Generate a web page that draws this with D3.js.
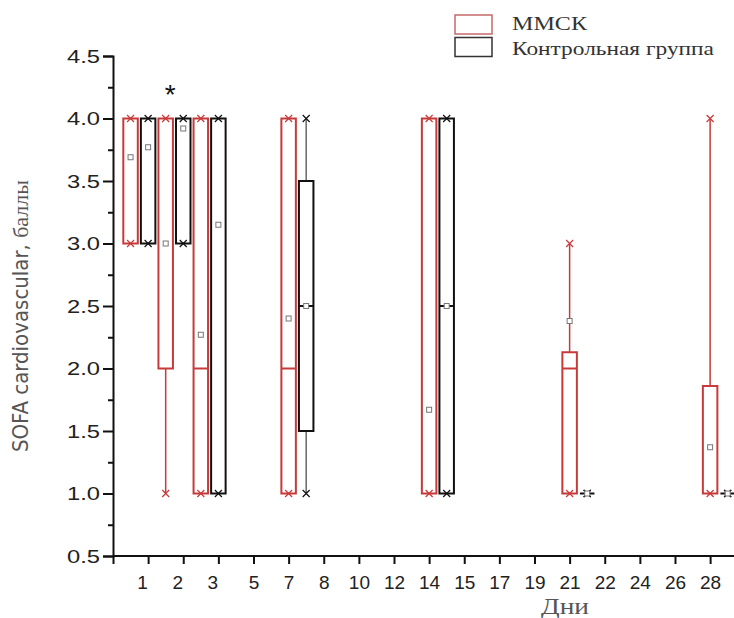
<!DOCTYPE html>
<html>
<head>
<meta charset="utf-8">
<script src="https://cdn.jsdelivr.net/npm/d3@7"></script>
<style>
  body { margin: 0; background: #fff; }
  svg text { font-family: "Liberation Sans", Arial, sans-serif; }
</style>
</head>
<body>
<div id="chart"></div>
<script>
// tick labels of the day axis (position 0 is the unlabelled origin)
const dayLabels = ["1", "2", "3", "5", "7", "8", "10", "12", "14", "15", "17", "19", "21", "22", "24", "26", "28"];

// days that have boxes, and where each group sits on the axis (in tick units)
const days = ["1", "2", "3", "7", "14", "21", "28"];
const mmskSlot = [0.5, 1.5, 2.5, 5, 9, 13, 17];
const ctrlSlot = [1, 2, 3, 5.5, 9.5, 13.5, 17.5];

// MMSK group: min, q1, median, q3, max, mean
const mmskMin = [3, 1, 1, 1, 1, 1, 1];
const mmskQ1 = [3, 2, 1, 1, 1, 1, 1];
const mmskMed = [null, null, 2, 2, null, 2, null];
const mmskQ3 = [4, 4, 4, 4, 4, 2.13, 1.86];
const mmskMax = [4, 4, 4, 4, 4, 3, 4];
const mmskMean = [3.69, 3.0, 2.27, 2.4, 1.67, 2.38, 1.37];

// control group
const ctrlMin = [3, 3, 1, 1, 1, 1, 1];
const ctrlQ1 = [3, 3, 1, 1.5, 1, 1, 1];
const ctrlMed = [null, null, null, 2.5, 2.5, null, null];
const ctrlQ3 = [4, 4, 4, 3.5, 4, 1, 1];
const ctrlMax = [4, 4, 4, 4, 4, 1, 1];
const ctrlMean = [3.77, 3.92, 3.15, 2.5, 2.5, 1, 1];

const seriesNames = ["ММСК", "Контрольная группа"];
const legendWidths = [75, 202];
const seriesColors = ["#c83a3a", "#111111"];
const yTicks = [0.5, 1.0, 1.5, 2.0, 2.5, 3.0, 3.5, 4.0, 4.5];

const width = 734, height = 618;
const svg = d3.select("#chart").append("svg")
    .attr("width", width)
    .attr("height", height);

const x = d3.scaleLinear().domain([0, 17.68]).range([113, 734]);
const y = d3.scaleLinear().domain([0.5, 4.5]).range([556, 56]);
const boxW = 14.5;
const stretch = 1.25; // y tick labels are drawn wide in the original

// y axis
const yAxis = svg.append("g")
    .attr("transform", `translate(${x(0)},0)`)
    .call(d3.axisLeft(y).tickValues(yTicks).tickSize(10).tickFormat(d3.format(".1f")));
yAxis.append("g")
    .call(d3.axisLeft(y).tickValues(d3.range(0.75, 4.5, 0.5)).tickSize(5).tickFormat(""))
    .select(".domain").remove();
yAxis.selectAll(".tick text")
    .attr("font-size", 19)
    .attr("fill", "#222")
    .attr("x", -13 / stretch)
    .attr("transform", `scale(${stretch},1)`);
yAxis.selectAll("line").attr("stroke", "#111").attr("stroke-width", 2);
yAxis.select(".domain").attr("stroke", "#111").attr("stroke-width", 2);

// x axis
const xAxis = svg.append("g")
    .attr("transform", `translate(0,${y(0.5)})`)
    .call(d3.axisBottom(x).tickValues(d3.range(0, 18)).tickSize(8).tickPadding(12)
        .tickFormat(i => i === 0 ? "" : dayLabels[i - 1]));
xAxis.select(".domain").attr("d", `M${x(0)},0H${width}`).attr("stroke", "#111").attr("stroke-width", 2);
xAxis.selectAll("line").attr("stroke", "#111").attr("stroke-width", 2);
xAxis.selectAll("text")
    .attr("font-size", 19)
    .attr("fill", "#222")
    .attr("dx", (d) => d <= 3 ? -6 : 0);

// axis titles
svg.append("text")
    .attr("x", 541)
    .attr("y", 614)
    .attr("font-size", 23)
    .attr("fill", "#555")
    .attr("textLength", 48)
    .attr("lengthAdjust", "spacingAndGlyphs")
    .style("font-family", "'Liberation Serif', 'Times New Roman', serif")
    .text("Дни");

const yTitle = svg.append("text")
    .attr("transform", "translate(28,316) rotate(-90)")
    .attr("text-anchor", "middle")
    .attr("fill", "#555")
    .attr("font-size", 22);
yTitle.append("tspan")
    .style("font-family", "'Liberation Sans Narrow', 'DejaVu Sans Condensed', sans-serif")
    .style("font-stretch", "condensed")
    .text("SOFA cardiovascular, ");
yTitle.append("tspan")
    .style("font-family", "'Liberation Serif', serif")
    .text("баллы");

// box plots
const groups = [
    {slot: ctrlSlot, min: ctrlMin, q1: ctrlQ1, med: ctrlMed, q3: ctrlQ3, max: ctrlMax, mean: ctrlMean, color: seriesColors[1], whisker: "#666"},
    {slot: mmskSlot, min: mmskMin, q1: mmskQ1, med: mmskMed, q3: mmskQ3, max: mmskMax, mean: mmskMean, color: seriesColors[0], whisker: seriesColors[0]}
];

groups.forEach(gr => {
    const data = days.map((d, i) => ({
        cx: x(gr.slot[i]),
        min: gr.min[i], q1: gr.q1[i], med: gr.med[i], q3: gr.q3[i], max: gr.max[i], mean: gr.mean[i]
    }));
    const g = svg.append("g");
    const b = g.selectAll("g.box").data(data).enter().append("g").attr("class", "box");

    // whiskers
    b.append("line")
        .attr("x1", d => d.cx).attr("x2", d => d.cx)
        .attr("y1", d => y(d.q3)).attr("y2", d => y(d.max))
        .attr("stroke", gr.whisker).attr("stroke-width", 1.5);
    b.append("line")
        .attr("x1", d => d.cx).attr("x2", d => d.cx)
        .attr("y1", d => y(d.q1)).attr("y2", d => y(d.min))
        .attr("stroke", gr.whisker).attr("stroke-width", 1.5);

    // box (a path so that a collapsed box still shows as a dash)
    b.append("path")
        .attr("d", d => `M${d.cx - boxW / 2},${y(d.q3)}H${d.cx + boxW / 2}V${y(d.q1)}H${d.cx - boxW / 2}Z`)
        .attr("fill", "none")
        .attr("stroke", gr.color)
        .attr("stroke-width", 2);

    // median
    b.filter(d => d.med !== null).append("line")
        .attr("x1", d => d.cx - boxW / 2).attr("x2", d => d.cx + boxW / 2)
        .attr("y1", d => y(d.med)).attr("y2", d => y(d.med))
        .attr("stroke", gr.color).attr("stroke-width", 2);

    // min / max crosses
    ["min", "max"].forEach(k => {
        b.append("path")
            .attr("d", d => `M${d.cx - 3.5},${y(d[k]) - 3.5}L${d.cx + 3.5},${y(d[k]) + 3.5}M${d.cx - 3.5},${y(d[k]) + 3.5}L${d.cx + 3.5},${y(d[k]) - 3.5}`)
            .attr("stroke", gr.color)
            .attr("stroke-width", 1.2)
            .attr("fill", "none");
    });

    // mean
    b.append("rect")
        .attr("x", d => d.cx - 2.5)
        .attr("y", d => y(d.mean) - 2.5)
        .attr("width", 5).attr("height", 5)
        .attr("fill", "#fff")
        .attr("stroke", "#777")
        .attr("stroke-width", 1);
});

// significance mark
svg.append("text")
    .attr("x", x(1.63))
    .attr("y", 104)
    .attr("text-anchor", "middle")
    .attr("font-size", 28)
    .attr("fill", "#111")
    .text("*");

// legend
const legend = svg.append("g");
seriesNames.forEach((name, i) => {
    legend.append("rect")
        .attr("x", 455).attr("y", 15 + i * 22.5)
        .attr("width", 37).attr("height", 19)
        .attr("fill", "#fff")
        .attr("stroke", i === 0 ? "#c86a6a" : "#333")
        .attr("stroke-width", 1.5);
    legend.append("text")
        .attr("x", 512).attr("y", 30 + i * 25)
        .attr("font-size", 19)
        .attr("fill", "#333")
        .attr("textLength", legendWidths[i])
        .attr("lengthAdjust", "spacingAndGlyphs")
        .style("font-family", "'Liberation Serif', 'Times New Roman', serif")
        .text(name);
});
</script>
</body>
</html>
